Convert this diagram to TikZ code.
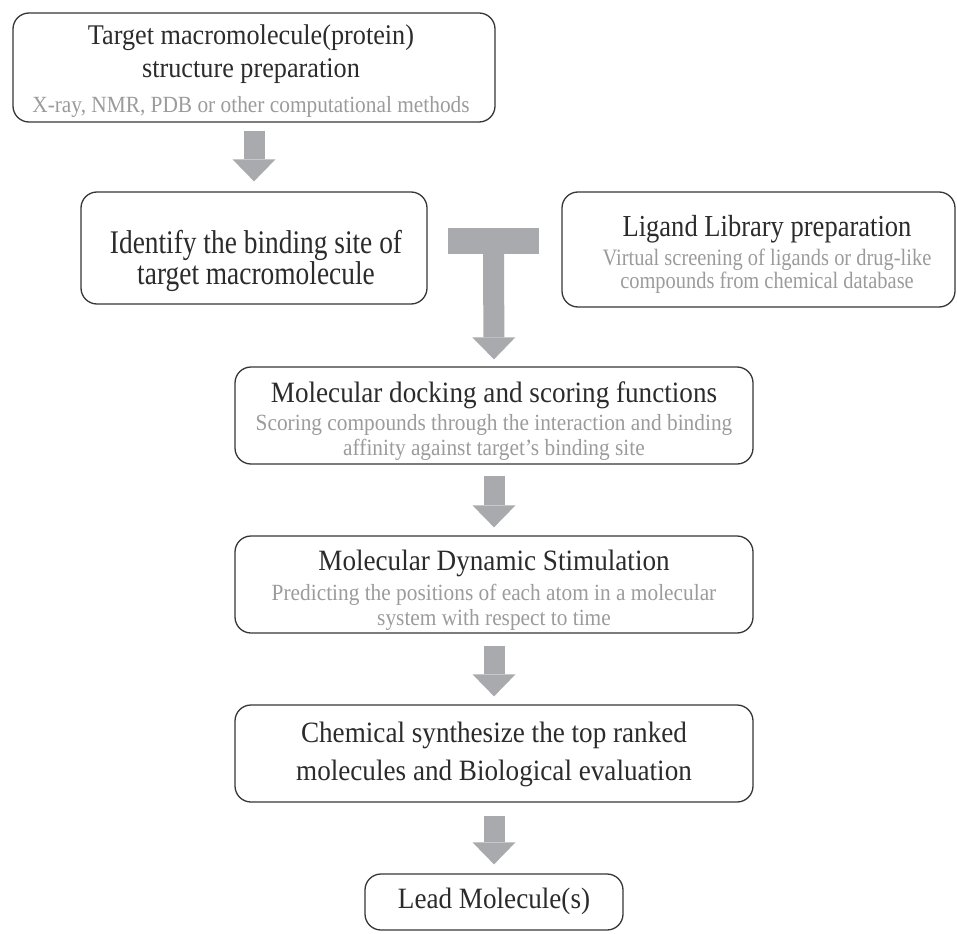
\documentclass[tikz,border=0pt]{standalone}
\usepackage{fontspec}
\setmainfont{Liberation Serif}
\newfontfamily\titlefont[FakeStretch=0.92]{Liberation Serif}
\newfontfamily\condfont[FakeStretch=0.83]{Liberation Serif}
\newfontfamily\ligfont[FakeStretch=0.87]{Liberation Serif}
\usetikzlibrary{arrows.meta}
\definecolor{boxline}{HTML}{363636}
\definecolor{titletext}{HTML}{2B2B2B}
\definecolor{subtext}{HTML}{9B9B9B}
\definecolor{arrowgray}{HTML}{A8AAAD}
\newcommand\tightlines{\lineskiplimit=-100pt\relax}
\newcommand\subline[1]{{\titlefont\fontsize{23.2}{25}\selectfont\color{subtext}#1}}
\newcommand\ligsub[1]{{\ligfont\fontsize{23.5}{23}\selectfont\color{subtext}#1}}
\tikzset{
  box/.style={draw=boxline, line width=1.3pt, rounded corners=16pt, inner sep=0pt, anchor=center},
  boxtext/.style={align=center, text=titletext, inner sep=0pt, anchor=center},
  flowarrow/.style={draw=arrowgray, line width=21pt,
    -{Triangle[width=43pt,length=22pt,line width=0pt]}},
  barshape/.style={fill=arrowgray, inner sep=0pt, minimum width=91pt, minimum height=26pt}
}
\begin{document}
\begin{tikzpicture}[x=1pt,y=-1pt]
\useasboundingbox (0,0) rectangle (957,933);
% boxes
\node[box, minimum width=482pt, minimum height=109pt] (b1) at (254,67.5) {};
\node[box, minimum width=346pt, minimum height=112pt] (b2) at (254,248) {};
\node[box, minimum width=393pt, minimum height=115pt] (lig) at (758.5,249.5) {};
\node[box, minimum width=518pt, minimum height=97pt] (b3) at (494,415.5) {};
\node[box, minimum width=518pt, minimum height=97pt] (b4) at (494,584.5) {};
\node[box, minimum width=518pt, minimum height=97pt] (b5) at (494,753.5) {};
\node[box, minimum width=258pt, minimum height=56pt] (lead) at (494,902) {};
% texts
\node[boxtext, font={\titlefont\fontsize{28.5}{33}\selectfont}] (b1t) at (251,71.5)
  {Target macromolecule(protein)\\structure preparation\\[2pt]\subline{X-ray, NMR, PDB or other computational methods}};
\node[boxtext, font={\condfont\fontsize{33}{28}\selectfont}] (b2t) at (256,261)
  {Identify the binding site of\\target macromolecule};
\node[boxtext, font={\ligfont\fontsize{30.5}{23}\selectfont\tightlines}] (ligt) at (767,254)
  {Ligand Library preparation\\[6pt]\ligsub{Virtual screening of ligands or drug-like}\\\ligsub{compounds from chemical database}};
\node[boxtext, font={\titlefont\fontsize{29.5}{25}\selectfont\tightlines}] (b3t) at (494,421.5)
  {Molecular docking and scoring functions\\[3pt]\subline{Scoring compounds through the interaction and binding}\\\subline{affinity against target’s binding site}};
\node[boxtext, font={\titlefont\fontsize{29.5}{25}\selectfont\tightlines}] (b4t) at (494,590)
  {Molecular Dynamic Stimulation\\[5pt]\subline{Predicting the positions of each atom in a molecular}\\\subline{system with respect to time}};
\node[boxtext, font={\titlefont\fontsize{29.5}{38}\selectfont}] (b5t) at (494,754)
  {Chemical synthesize the top ranked\\molecules and Biological evaluation};
\node[boxtext, font={\titlefont\fontsize{29.5}{33}\selectfont}] (leadt) at (494,901)
  {Lead Molecule(s)};
% connectors
\node[barshape] (tbar) at (493.5,241) {};
\draw[flowarrow] ([yshift=-8pt]b1.south) -- ([yshift=10pt]b2.north);
\draw[flowarrow] (tbar.south) -- ([yshift=7pt]b3.north);
\draw[flowarrow] ([yshift=-11pt]b3.south) -- ([yshift=8pt]b4.north);
\draw[flowarrow] ([yshift=-12pt]b4.south) -- ([yshift=8pt]b5.north);
\draw[flowarrow] ([yshift=-13pt]b5.south) -- ([yshift=9pt]lead.north);
\end{tikzpicture}
\end{document}
